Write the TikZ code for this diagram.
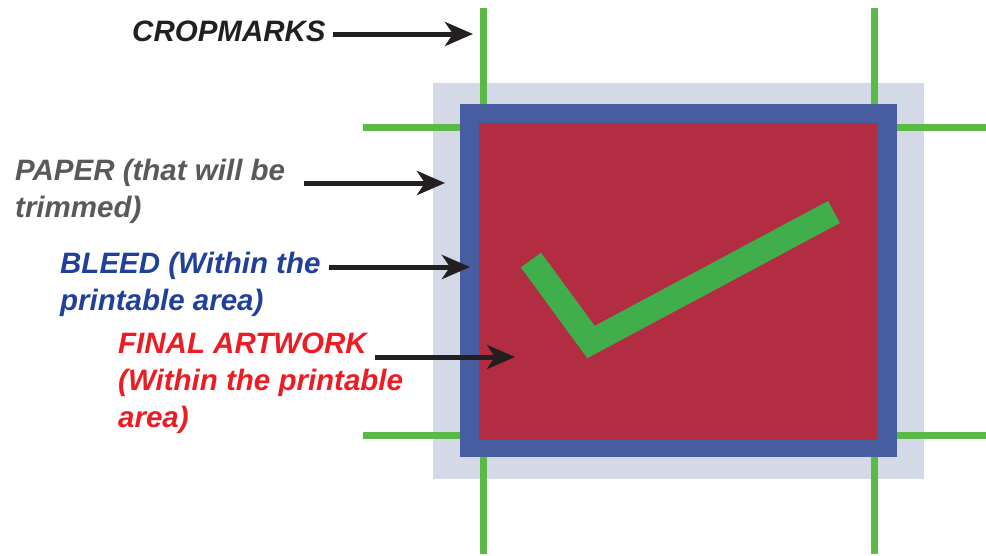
\documentclass[tikz,border=0pt]{standalone}
\usepackage{fontspec}
\setmainfont{Liberation Sans}
\usetikzlibrary{arrows.meta}
\definecolor{paperc}{HTML}{D3D9E6}
\definecolor{bleedc}{HTML}{475DA0}
\definecolor{artc}{HTML}{B22D42}
\definecolor{cropc}{HTML}{5BB947}
\definecolor{checkc}{HTML}{3FAE4B}
\definecolor{txtblack}{HTML}{231F20}
\definecolor{txtgray}{HTML}{58595B}
\definecolor{txtblue}{HTML}{21409A}
\definecolor{txtred}{HTML}{ED1C24}
\tikzset{
  lbl/.style={anchor=north west, inner sep=0pt, align=left,
    font=\fontsize{29.5}{37}\selectfont\bfseries\itshape},
  pointer/.style={draw=txtblack, line width=5pt,
    -{Stealth[length=28pt,width=24pt,inset=8pt]}},
  cropmark/.style={draw=cropc, line width=7pt},
}
\begin{document}
\begin{tikzpicture}[x=1pt,y=-1pt]
\useasboundingbox (0,0) rectangle (986,555);
% sheets
\path[fill=paperc] (433,83) rectangle (924,479);
\path[fill=bleedc] (460,104) rectangle (897,457);
\path[fill=artc] (479,123) rectangle (878,440);
% crop marks
\draw[cropmark] (483.5,8) -- (483.5,104);
\draw[cropmark] (483.5,457) -- (483.5,554);
\draw[cropmark] (874,8) -- (874,104);
\draw[cropmark] (874,457) -- (874,554);
\draw[cropmark] (363,127) -- (460,127);
\draw[cropmark] (897,127) -- (986,127);
\draw[cropmark] (363,435.5) -- (460,435.5);
\draw[cropmark] (897,435.5) -- (986,435.5);
% check mark
\draw[checkc, line width=25pt, miter limit=10] (531,260) -- (591,342) -- (834,212);
% labels
\node[lbl, text=txtblack] (crop) at (132,21) {CROPMARKS};
\node[lbl, text=txtgray] (paper) at (15,159) {PAPER (that will be\\trimmed)};
\node[lbl, text=txtblue] (bleed) at (60,252) {BLEED (Within the\\printable area)};
\node[lbl, text=txtred] (art) at (118,333) {FINAL ARTWORK\\(Within the printable\\area)};
% arrow ends
\coordinate (cropS) at (333,34);
\coordinate (cropE) at (473,34);
\coordinate (paperS) at (304,183);
\coordinate (paperE) at (445,183);
\coordinate (bleedS) at (329,267);
\coordinate (bleedE) at (470,267);
\coordinate (artS) at (375,357);
\coordinate (artE) at (515,357);
\draw[pointer] (cropS) -- (cropE);
\draw[pointer] (paperS) -- (paperE);
\draw[pointer] (bleedS) -- (bleedE);
\draw[pointer] (artS) -- (artE);
\end{tikzpicture}
\end{document}
